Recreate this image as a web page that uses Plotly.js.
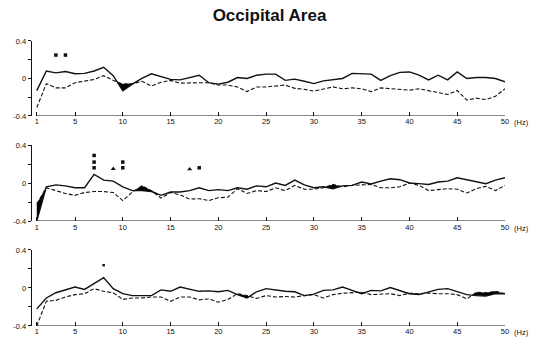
<!DOCTYPE html>
<html><head><meta charset="utf-8">
<script src="https://cdn.plot.ly/plotly-3.0.1.min.js"></script>
<style>html,body{margin:0;padding:0;background:#fff}#chart{width:539px;height:345px}</style>
</head><body><div id="chart"></div>
<script>
const hz = [1,2,3,4,5,6,7,8,9,10,11,12,13,14,15,16,17,18,19,20,21,22,23,24,25,26,27,28,29,30,31,32,33,34,35,36,37,38,39,40,41,42,43,44,45,46,47,48,49,50];
const xTickVals = [1,5,10,15,20,25,30,35,40,45,50];
const xTickText = ["1","5","10","15","20","25","30","35","40","45","50"];
const yTickVals = [-0.4,-0.2,0,0.2,0.4];
const yTickText = ["-0.4","","0","","0.4"];
const unitLabel = "(Hz)";
const chartTitle = "Occipital Area";

const p1Solid = [-0.13,0.08,0.06,0.075,0.05,0.055,0.08,0.12,0.03,-0.13,-0.06,0,0.05,0.02,-0.01,-0.015,0.01,0.035,-0.045,-0.06,-0.04,0.01,0,0.035,0.047,0.047,-0.02,-0.007,-0.03,-0.055,-0.025,-0.015,0,0.055,0.055,0.047,-0.02,0.03,0.065,0.07,0.035,-0.015,0.035,-0.015,0.07,0,0.01,0.01,0,-0.035];
const p1Dash = [-0.31,-0.055,-0.1,-0.1,-0.045,-0.03,-0.01,0.03,-0.02,-0.06,-0.055,-0.03,-0.08,-0.04,-0.02,-0.05,-0.045,-0.045,-0.045,-0.07,-0.07,-0.09,-0.14,-0.09,-0.09,-0.08,-0.07,-0.105,-0.115,-0.135,-0.115,-0.09,-0.11,-0.1,-0.11,-0.14,-0.1,-0.11,-0.115,-0.125,-0.11,-0.127,-0.15,-0.17,-0.127,-0.23,-0.21,-0.225,-0.19,-0.11];

const p2Solid = [-0.4,-0.04,-0.02,-0.03,-0.05,-0.05,0.09,0.03,0.02,-0.04,-0.08,-0.08,-0.09,-0.13,-0.095,-0.095,-0.08,-0.05,-0.08,-0.07,-0.08,-0.05,-0.065,-0.03,-0.04,0,-0.025,0.03,-0.02,-0.05,-0.04,-0.06,-0.03,-0.025,0.01,-0.01,0.02,0.045,0.035,0,-0.007,-0.015,0.01,0.02,0.055,0.035,0.01,-0.007,0.03,0.055];
const p2Dash = [-0.22,-0.05,-0.08,-0.11,-0.13,-0.1,-0.09,-0.09,-0.1,-0.185,-0.095,-0.03,-0.08,-0.16,-0.1,-0.125,-0.17,-0.165,-0.185,-0.155,-0.15,-0.06,-0.11,-0.08,-0.09,-0.05,-0.08,-0.025,-0.065,-0.065,-0.05,-0.015,-0.04,-0.025,-0.02,-0.015,-0.05,-0.05,-0.04,0,-0.025,-0.08,-0.07,-0.06,-0.065,-0.105,-0.06,-0.035,-0.08,-0.025];

const p3Solid = [-0.22,-0.105,-0.05,-0.02,0.01,-0.015,0.045,0.11,-0.007,-0.06,-0.08,-0.08,-0.08,-0.02,-0.035,0.01,-0.015,-0.035,-0.03,-0.04,-0.025,-0.07,-0.105,-0.04,-0.007,-0.025,-0.035,-0.04,-0.08,-0.065,-0.025,-0.02,0.01,-0.025,-0.06,-0.025,-0.03,0.004,-0.025,-0.06,-0.07,-0.04,-0.015,-0.007,-0.035,-0.07,-0.08,-0.085,-0.06,-0.06];
const p3Dash = [-0.4,-0.14,-0.13,-0.095,-0.07,-0.06,-0.007,-0.035,-0.05,-0.12,-0.105,-0.105,-0.095,-0.095,-0.14,-0.095,-0.095,-0.125,-0.115,-0.15,-0.12,-0.06,-0.08,-0.11,-0.08,-0.095,-0.09,-0.095,-0.08,-0.07,-0.105,-0.07,-0.055,-0.05,-0.045,-0.07,-0.065,-0.06,-0.08,-0.055,-0.06,-0.055,-0.06,-0.06,-0.07,-0.115,-0.045,-0.05,-0.035,-0.06];

// significance marks
const p1StarHz = [3,4];       const p1StarVal = [0.25,0.25];
const p2StarHz = [7,7,7,10,10,18]; const p2StarVal = [0.29,0.22,0.16,0.22,0.16,0.16];
const p2TriHz = [9,17];       const p2TriVal = [0.15,0.145];
const p3StarHz = [8];         const p3StarVal = [0.24];

const FONT = 'Liberation Sans, Arial, sans-serif';
const INK = '#111';

function fillArrays(x, s, d) {
  const fx = [], fs = [], fu = [];
  for (let i = 0; i < x.length; i++) {
    fx.push(x[i]); fs.push(s[i]); fu.push(Math.max(s[i], d[i]));
    if (i < x.length - 1) {
      const a = d[i] - s[i], b = d[i+1] - s[i+1];
      if (a * b < 0) {
        const t = a / (a - b);
        const xc = x[i] + t * (x[i+1] - x[i]);
        const yc = s[i] + t * (s[i+1] - s[i]);
        fx.push(xc); fs.push(yc); fu.push(yc);
      }
    }
  }
  return {fx, fs, fu};
}

const panels = [
  {solid: p1Solid, dash: p1Dash, stars: [p1StarHz, p1StarVal, 3.5], tris: null, dom: [0.6638, 0.8812]},
  {solid: p2Solid, dash: p2Dash, stars: [p2StarHz, p2StarVal, 3.5], tris: [p2TriHz, p2TriVal], dom: [0.3594, 0.5797]},
  {solid: p3Solid, dash: p3Dash, stars: [p3StarHz, p3StarVal, 2.5], tris: null, dom: [0.0551, 0.2754]}
];

const traces = [];
const layout = {
  width: 539, height: 345,
  margin: {l: 32, r: 34, t: 0, b: 0},
  paper_bgcolor: '#fff', plot_bgcolor: '#fff',
  showlegend: false,
  title: {text: chartTitle, x: 0.5, xanchor: 'center', y: 0.955, yanchor: 'middle', yref: 'container',
          font: {family: FONT, size: 17, color: INK, weight: 'bold'}},
  shapes: [], annotations: []
};

panels.forEach((p, k) => {
  const n = k === 0 ? '' : String(k + 1);
  const xa = 'x' + n, ya = 'y' + n;
  const f = fillArrays(hz, p.solid, p.dash);
  traces.push({x: f.fx, y: f.fs, xaxis: xa, yaxis: ya, mode: 'lines', line: {width: 0, color: 'rgba(0,0,0,0)'}, hoverinfo: 'skip'});
  traces.push({x: f.fx, y: f.fu, xaxis: xa, yaxis: ya, mode: 'lines', fill: 'tonexty', fillcolor: '#000', line: {width: 0, color: 'rgba(0,0,0,0)'}, hoverinfo: 'skip'});
  traces.push({x: hz, y: p.dash, xaxis: xa, yaxis: ya, mode: 'lines', line: {color: INK, width: 1.1, dash: '4px,2px'}});
  traces.push({x: hz, y: p.solid, xaxis: xa, yaxis: ya, mode: 'lines', line: {color: INK, width: 1.4}});
  traces.push({x: p.stars[0], y: p.stars[1], xaxis: xa, yaxis: ya, mode: 'markers', marker: {symbol: 'square', size: p.stars[2], color: INK}});
  if (p.tris) traces.push({x: p.tris[0], y: p.tris[1], xaxis: xa, yaxis: ya, mode: 'markers', marker: {symbol: 'triangle-up', size: 4.5, color: INK}});

  layout['xaxis' + n] = {
    anchor: ya, domain: [0, 1], range: [0.5, 50],
    tickmode: 'array', tickvals: xTickVals, ticktext: xTickText,
    ticks: 'inside', ticklen: 4, tickwidth: 1, tickcolor: INK,
    showline: false, showgrid: false, zeroline: false,
    tickfont: {family: FONT, size: 7.5, color: INK}
  };
  layout['yaxis' + n] = {
    anchor: xa, domain: p.dom, range: [-0.4, 0.4],
    tickmode: 'array', tickvals: yTickVals, ticktext: yTickText,
    ticks: 'outside', ticklen: 3, tickwidth: 1, tickcolor: INK,
    showline: true, linecolor: INK, linewidth: 1.3,
    showgrid: false, zeroline: false,
    tickfont: {family: FONT, size: 7.5, color: INK}
  };
  layout.shapes.push({type: 'line', xref: xa, yref: ya, x0: xTickVals[0], x1: xTickVals[xTickVals.length - 1], y0: -0.4, y1: -0.4, line: {color: INK, width: 1.2}});
  layout.annotations.push({xref: 'paper', yref: ya, x: 1.015, y: -0.4, yshift: -7, xanchor: 'left', yanchor: 'middle', showarrow: false, text: unitLabel, font: {family: FONT, size: 7.5, color: INK}});
});

Plotly.newPlot('chart', traces, layout, {displayModeBar: false, staticPlot: true});
</script>
</body></html>
